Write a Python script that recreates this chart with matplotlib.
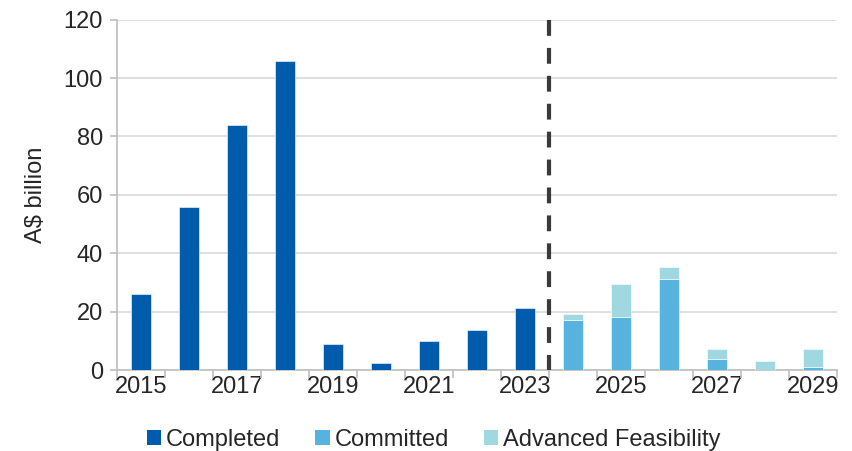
import matplotlib
matplotlib.use("Agg")
import matplotlib.pyplot as plt
import numpy as np
from matplotlib.patches import Patch

years = [2015, 2016, 2017, 2018, 2019, 2020, 2021, 2022, 2023, 2024, 2025, 2026, 2027, 2028, 2029]
completed = [26.2, 56, 84, 106, 8.9, 2.3, 10.1, 13.7, 21.3, 0, 0, 0, 0, 0, 0]
committed = [0, 0, 0, 0, 0, 0, 0, 0, 0, 17.3, 18.1, 31.1, 3.8, 0, 1.0]
advanced = [0, 0, 0, 0, 0, 0, 0, 0, 0, 1.8, 11.5, 4.2, 3.5, 3.0, 6.3]
tick_labels = ["2015", "", "2017", "", "2019", "", "2021", "", "2023", "", "2025", "", "2027", "", "2029"]

plt.rcParams['font.family'] = ['Liberation Sans', 'DejaVu Sans']
c_comp = "#005bac"
c_commit = "#56b3df"
c_adv = "#9fd8e0"
txt = "#262626"
fs = 17

fig = plt.figure(figsize=(8.52, 4.51), dpi=100)
ax = fig.add_axes([0.1373, 0.1796, 0.9824 - 0.1373, 0.9563 - 0.1796])

x = np.arange(len(years))
w = 0.41
ax.bar(x, completed, w, color=c_comp, edgecolor="#ffffff", linewidth=0.4, zorder=3)
ax.bar(x, committed, w, color=c_commit, edgecolor="#ffffff", linewidth=0.4, zorder=3)
ax.bar(x, advanced, w, bottom=committed, color=c_adv, edgecolor="#ffffff", linewidth=0.4, zorder=3)

ax.plot([8.5, 8.5], [120, 0], color="#3a3a3a", linewidth=3.0, linestyle=(0, (3.8, 2.9)),
        solid_capstyle="butt", dash_capstyle="butt", zorder=4, clip_on=False)

ax.set_xlim(-0.5, len(years) - 0.5)
ax.set_ylim(0, 120)
ax.set_yticks(np.arange(0, 121, 20))
ax.yaxis.grid(True, color="#d9d9d9", linewidth=1.2, zorder=0)
ax.set_axisbelow(True)

ax.set_xticks(x)
ax.set_xticklabels(tick_labels)
ax.set_xticks(np.arange(-0.5, len(years), 1), minor=True)
ax.tick_params(axis='x', which='major', length=0, pad=4, labelsize=fs, colors=txt)
ax.tick_params(axis='x', which='minor', length=6, color="#bfbfbf", width=1.2)
ax.tick_params(axis='y', length=5, color="#bfbfbf", width=1.2, labelsize=fs, labelcolor=txt, pad=5)

for s in ["top", "right"]:
    ax.spines[s].set_visible(False)
for s in ["left", "bottom"]:
    ax.spines[s].set_color("#bfbfbf")
    ax.spines[s].set_linewidth(1.2)

ax.set_ylabel("A$ billion", fontsize=fs, color=txt, labelpad=12)

handles = [Patch(facecolor=c_comp, label="Completed"),
           Patch(facecolor=c_commit, label="Committed"),
           Patch(facecolor=c_adv, label="Advanced Feasibility")]
fig.legend(handles=handles, loc="center", bbox_to_anchor=(0.509, 0.025), ncol=3, frameon=False,
           fontsize=fs, handlelength=0.6, handleheight=0.6, handletextpad=0.2, columnspacing=1.5,
           labelcolor=txt, borderpad=0)

fig.savefig("out.png", dpi=100)
